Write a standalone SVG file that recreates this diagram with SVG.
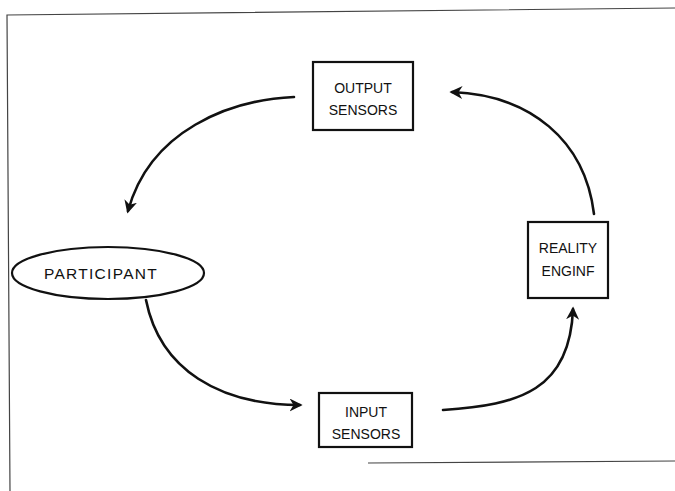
<svg xmlns="http://www.w3.org/2000/svg" width="675" height="491" viewBox="0 0 675 491">
<style>
.box{fill:#fff;stroke:#111;stroke-width:2.2}
.t{font-family:"Liberation Sans",Arial,sans-serif;font-size:14px;fill:#111;text-anchor:middle}
.c{fill:none;stroke:#111;stroke-width:2.6;stroke-linecap:round}
.frame{fill:none;stroke:#444;stroke-width:1.2}
</style>
<defs>
<marker id="ah" viewBox="0 0 10 10" refX="8" refY="5" markerWidth="5" markerHeight="5" orient="auto" markerUnits="strokeWidth">
<path d="M0,0 L10,5 L0,10 L3,5 Z" fill="#111"/>
</marker>
</defs>
<rect width="675" height="491" fill="#fff"/>
<g id="frame">
<path class="frame" d="M675,8 L7,15 L10,491"/>
<path class="frame" d="M368,463 L675,461"/>
</g>
<g id="output-sensors">
<rect class="box" x="313" y="62" width="100" height="68"/>
<text class="t" x="363" y="93">OUTPUT</text>
<text class="t" x="363" y="115">SENSORS</text>
</g>
<g id="participant">
<ellipse class="box" cx="108" cy="273" rx="96" ry="26"/>
<text class="t" x="101" y="279" style="font-size:15.5px;letter-spacing:1.3px">PARTICIPANT</text>
</g>
<g id="reality-engine">
<rect class="box" x="528" y="222" width="80" height="76"/>
<text class="t" x="568" y="253">REALITY</text>
<text class="t" x="568" y="276">ENGINF</text>
</g>
<g id="input-sensors">
<rect class="box" x="319" y="393" width="93" height="54"/>
<text class="t" x="366" y="417">INPUT</text>
<text class="t" x="366" y="439">SENSORS</text>
</g>
<g id="connectors">
<path class="c" d="M294,97 C230,100 150,130 128,211" marker-end="url(#ah)"/>
<path class="c" d="M146,300 C160,370 220,405 300,405" marker-end="url(#ah)"/>
<path class="c" d="M443,410 C520,405 570,390 573,309" marker-end="url(#ah)"/>
<path class="c" d="M594,214 C585,140 530,95 452,92" marker-end="url(#ah)"/>
</g>
</svg>
